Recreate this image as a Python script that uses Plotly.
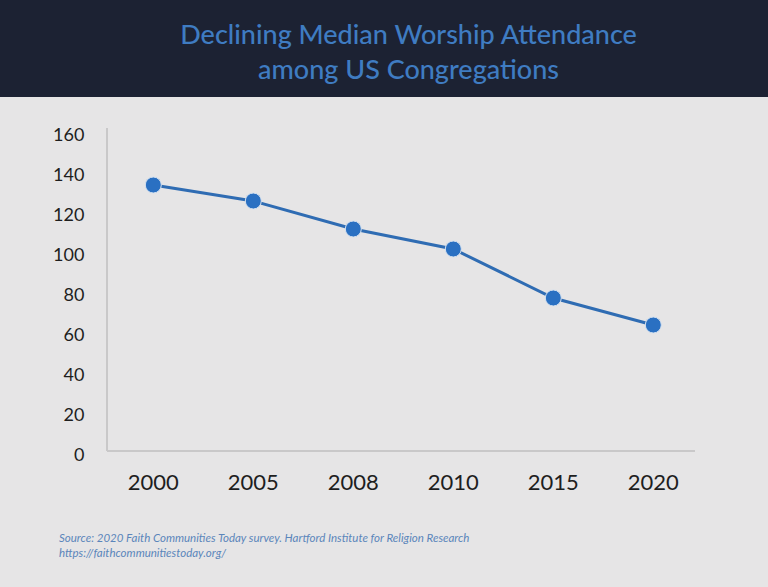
import plotly.graph_objects as go

years = ["2000", "2005", "2008", "2010", "2015", "2020"]
attendance = [135, 127, 113, 103, 78.5, 65]
y_ticks = [0, 20, 40, 60, 80, 100, 120, 140, 160]

title_text = "Declining Median Worship Attendance<br>among US Congregations"
source_text = ("Source: 2020 Faith Communities Today survey. Hartford Institute for Religion Research"
               "<br>https://faithcommunitiestoday.org/")

BG = "#e6e5e6"
NAVY = "#1c2233"
BLUE = "#2a70c2"

fig = go.Figure()
fig.add_trace(go.Scatter(
    x=years, y=attendance, mode="lines+markers",
    line=dict(color="#2f6cb3", width=3),
    marker=dict(size=16, color=BLUE, line=dict(color="#d6e2f0", width=1)),
    hoverinfo="x+y", showlegend=False,
))

# header band (ends ~97px from top)
fig.add_shape(type="rect", xref="paper", yref="paper",
              x0=-1, x1=2, y0=1 + (128 - 97) / 332, y1=2, fillcolor=NAVY, line_width=0, layer="below")

# axis lines
fig.add_shape(type="line", xref="paper", yref="y", x0=0, x1=0, y0=2, y1=163.5,
              line=dict(color="#c9c8c9", width=2))
fig.add_shape(type="line", xref="paper", yref="y", x0=0, x1=1, y0=2, y1=2,
              line=dict(color="#c9c8c9", width=2))

fig.update_layout(
    width=768, height=587,
    margin=dict(l=107, r=73, t=128, b=127),
    paper_bgcolor=BG, plot_bgcolor=BG,
    title=dict(text=title_text, x=0.532, xanchor="center", xref="container",
               y=1 - 44 / 587, yanchor="middle", yref="container",
               font=dict(family="Lato", size=27, color="#3f7cc2", weight=500)),
    xaxis=dict(type="category", range=[-0.463, 5.417], showgrid=False, zeroline=False,
               showline=False, tickfont=dict(family="Lato", size=22, color="#1e1e1e"),
               ticks="outside", ticklen=3, tickcolor="rgba(0,0,0,0)"),
    yaxis=dict(range=[-2.5, 163.5], tickvals=y_ticks, showgrid=False, zeroline=False,
               showline=False, tickfont=dict(family="Lato", size=18, color="#1e1e1e"),
               ticks="outside", ticklen=18, tickcolor="rgba(0,0,0,0)"),
)

fig.add_annotation(text=source_text, xref="paper", yref="paper",
                   x=-50 / 588, y=-(537 - 460 - 8) / 332, xanchor="left", yanchor="top",
                   align="left", showarrow=False,
                   font=dict(family="Lato", size=11.5, color="#5b85bb", style="italic"))

fig.write_html("out.html")
